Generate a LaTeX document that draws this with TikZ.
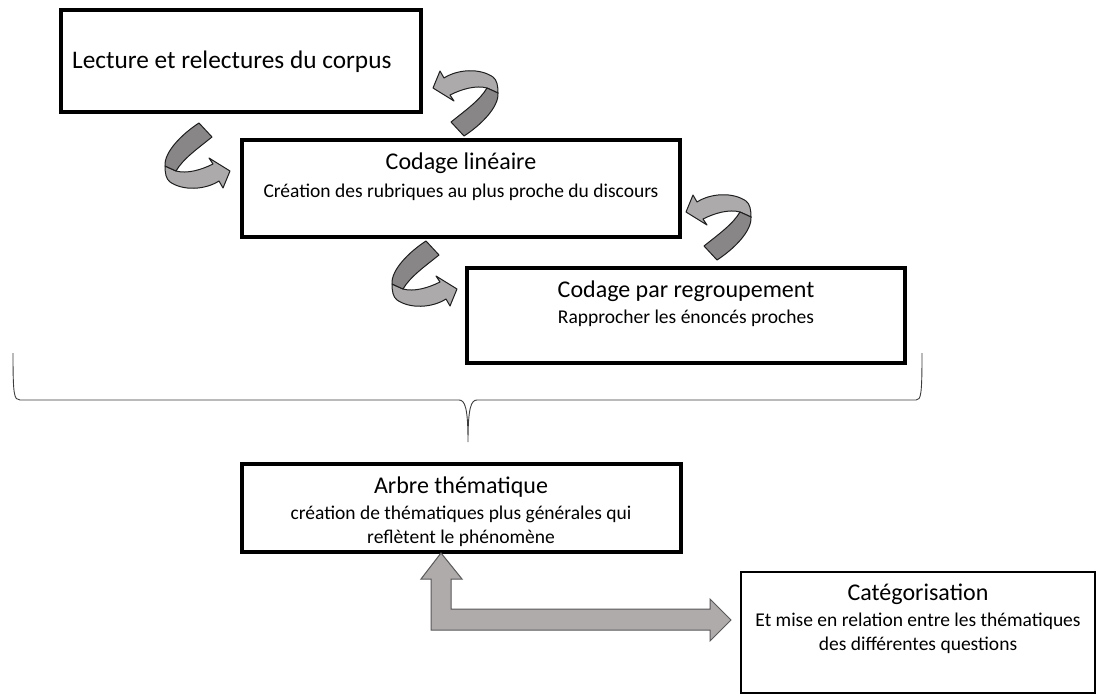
\documentclass[tikz,border=0pt]{standalone}
\usepackage{fontspec}
\setmainfont{Carlito}
\definecolor{arrowlight}{RGB}{172,170,170}
\definecolor{arrowdark}{RGB}{136,134,134}
\definecolor{arrowline}{RGB}{30,30,30}
\definecolor{bentfill}{RGB}{175,171,171}
\definecolor{bentline}{RGB}{89,89,89}
\definecolor{bracecol}{RGB}{60,60,60}
\tikzset{
  box/.style={draw=black,line width=3.5pt,fill=white,inner sep=0pt},
  ttl/.style={font=\fontsize{24}{29}\selectfont,inner sep=0pt},
  sub/.style={font=\fontsize{19.5}{24}\selectfont,inner sep=0pt},
  lightband/.style={fill=arrowlight,draw=arrowline,line width=1pt,line join=round},
  darkband/.style={fill=arrowdark,draw=arrowline,line width=1pt,line join=round},
  bentarrow/.style={fill=bentfill,draw=bentline,line width=1pt,line join=miter},
  bracestyle/.style={draw=bracecol,line width=0.9pt},
  curvarrow/.pic={
    \path[lightband] (-33,-16) -- (-26,-33) -- (-22,-26)
      .. controls (-8,-35) and (14,-36) .. (27,-27)
      .. controls (31,-24) and (32,-18) .. (32,-11)
      -- (21,-16)
      .. controls (10,-19) and (-4,-15) .. (-16,-9)
      -- (-12,-3) -- cycle;
    \path[darkband] (32,-11) .. controls (33,3) and (15,21) .. (-2,32)
      -- (-15,18) .. controls (0,6) and (14,-4) .. (21,-16) -- cycle;
  }
}
\begin{document}
\begin{tikzpicture}[x=1pt,y=-1pt]
\useasboundingbox (0,0) rectangle (1105,698);

% boxes
\node[box,minimum width=360pt,minimum height=102pt] (b1) at (241,61) {};
\node[box,minimum width=438pt,minimum height=97pt] (b2) at (461,188.5) {};
\node[box,minimum width=438pt,minimum height=95pt] (b3) at (686,315.5) {};
\node[box,minimum width=439pt,minimum height=88pt] (b4) at (461.5,508) {};
\node[box,minimum width=354pt,minimum height=121pt,line width=2.5pt] (b5) at (918,632.5) {};

% texts
\node[ttl,anchor=west,font=\fontsize{25.3}{30}\selectfont] (t1) at (72,62) {Lecture et relectures du corpus};
\node[ttl] (t2) at (461,163) {Codage linéaire};
\node[sub] (s2) at (461,192) {Création des rubriques au plus proche du discours};
\node[ttl] (t3) at (686,291) {Codage par regroupement};
\node[sub] (s3) at (686,318) {Rapprocher les énoncés proches};
\node[ttl] (t4) at (461,487) {Arbre thématique};
\node[sub,align=center] (s4) at (461,526) {création de thématiques plus générales qui\\reflètent le phénomène};
\node[ttl] (t5) at (918,594) {Catégorisation};
\node[sub,align=center] (s5) at (918,633) {Et mise en relation entre les thématiques\\des différentes questions};

% curved arrows
\pic at (466,104) {curvarrow};
\pic at (719,228) {curvarrow};
\pic[rotate=180] at (197,155) {curvarrow};
\pic[rotate=180] at (424,273) {curvarrow};

% brace
\draw[bracestyle] (13,353) .. controls (13,395) and (14,400) .. (20,400)
  -- (459,400) .. controls (465,400) and (468,408) .. (468,442)
  .. controls (468,408) and (471,400) .. (477,400)
  -- (916,400) .. controls (921,400) and (922,395) .. (922,353);

% bent double arrow between b4 and b5
\coordinate (up) at (441,553);
\coordinate (rt) at (731,620);
\path[bentarrow] (up) -- (462,579) -- (451,579) -- (451,609) -- (710,609)
  -- (710,599) -- (rt) -- (710,641) -- (710,630) -- (431,630) -- (431,579)
  -- (421,579) -- cycle;
\end{tikzpicture}
\end{document}
